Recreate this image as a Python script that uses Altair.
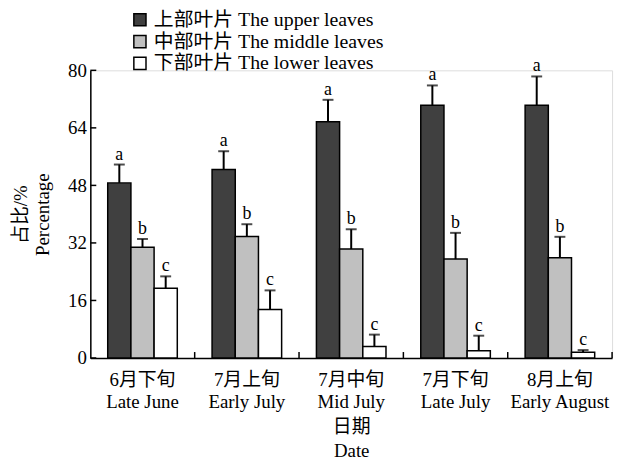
import altair as alt
import pandas as pd

dates = ["6月下旬|Late June", "7月上旬|Early July", "7月中旬|Mid July",
         "7月下旬|Late July", "8月上旬|Early August"]
groups = ["上部叶片 The upper leaves", "中部叶片 The middle leaves", "下部叶片 The lower leaves"]
upper = [48.7, 52.4, 65.7, 70.3, 70.3]
upper_sd = [5.1, 5.1, 6.1, 5.5, 8.0]
middle = [30.8, 33.8, 30.3, 27.5, 27.9]
middle_sd = [2.3, 3.4, 5.5, 7.3, 5.8]
lower = [19.4, 13.5, 3.2, 2.0, 1.6]
lower_sd = [3.3, 5.3, 3.3, 4.2, 0.6]
upper_letters = ["a", "a", "a", "a", "a"]
middle_letters = ["b", "b", "b", "b", "b"]
lower_letters = ["c", "c", "c", "c", "c"]
y_ticks = [0, 16, 32, 48, 64, 80]
colors = ["#404040", "#c0c0c0", "#ffffff"]

FONT = '"Liberation Serif", "Noto Sans CJK SC", serif'

rows = []
for g, vals, sds, lets in zip(groups, [upper, middle, lower],
                              [upper_sd, middle_sd, lower_sd],
                              [upper_letters, middle_letters, lower_letters]):
    for d, v, s, l in zip(dates, vals, sds, lets):
        rows.append({"date": d, "group": g, "value": v, "err": v + s, "letter": l})
df = pd.DataFrame(rows)
df_ticks = pd.DataFrame({"v": y_ticks})
df_dates = pd.DataFrame({"date": dates})

W, H = 526, 290

xscale = alt.Scale(domain=dates, paddingInner=0, paddingOuter=0)
offscale = alt.Scale(domain=groups, paddingInner=0, paddingOuter=0.75)
yscale = alt.Scale(domain=[0, 80], nice=False)

x_enc = alt.X("date:N", scale=xscale, sort=dates,
              axis=alt.Axis(title=["日期", "Date"], labelAngle=0, tickSize=0,
                            labelExpr="split(datum.label, '|')",
                            labelPadding=13, labelLineHeight=22, labelFontSize=19,
                            titleFontSize=19, titleLineHeight=24, titlePadding=6,
                            titleFontWeight="normal",
                            domainColor="black", domainWidth=1.5,
                            labelColor="black", titleColor="black",
                            labelFont=FONT, titleFont=FONT))
y_enc = alt.Y("value:Q", scale=yscale,
              axis=alt.Axis(values=y_ticks, tickSize=0, labelPadding=4,
                            labelFontSize=19, grid=False,
                            title=["占比/%", "Percentage"], titleFontSize=19,
                            titleLineHeight=22, titlePadding=15, titleFontWeight="normal",
                            domainColor="black", domainWidth=1.5,
                            labelColor="black", titleColor="black",
                            labelFont=FONT, titleFont=FONT))
xo = alt.XOffset("group:N", scale=offscale, sort=groups)

base = alt.Chart(df)

bars = base.mark_bar(stroke="black", strokeWidth=1.5).encode(
    x=x_enc, xOffset=xo, y=y_enc,
    fill=alt.Fill("group:N", scale=alt.Scale(domain=groups, range=colors),
                  legend=alt.Legend(title=None, orient="none", legendX=40, legendY=-61,
                                    symbolType="square", symbolSize=150,
                                    symbolStrokeColor="black", symbolStrokeWidth=1.5,
                                    labelFontSize=20, labelFont=FONT, labelColor="black",
                                    labelOffset=4, rowPadding=2, padding=0,
                                    labelLimit=400)),
)

errs = base.mark_rule(color="black", strokeWidth=2).encode(
    x=alt.X("date:N", scale=xscale, sort=dates), xOffset=xo,
    y=alt.Y("value:Q", scale=yscale), y2="err:Q")

caps = base.mark_tick(color="black", thickness=2, size=11).encode(
    x=alt.X("date:N", scale=xscale, sort=dates), xOffset=xo,
    y=alt.Y("err:Q", scale=yscale))

letters = base.mark_text(baseline="alphabetic", dy=-5, fontSize=18, font=FONT,
                         color="black").encode(
    x=alt.X("date:N", scale=xscale, sort=dates), xOffset=xo,
    y=alt.Y("err:Q", scale=yscale), text="letter:N")

yticks = alt.Chart(df_ticks).mark_rule(color="black", strokeWidth=1.5).encode(
    y=alt.Y("v:Q", scale=yscale), x=alt.value(0), x2=alt.value(6))

xticks = alt.Chart(df_dates).mark_rule(color="black", strokeWidth=1.5).encode(
    x=alt.X("date:N", scale=xscale, sort=dates, bandPosition=1),
    y=alt.value(H), y2=alt.value(H - 6))

chart = alt.layer(bars, errs, caps, letters, yticks, xticks).properties(
    width=W, height=H,
    autosize=alt.AutoSizeParams(type="none"),
    padding={"left": 83, "top": 61, "right": 10, "bottom": 101},
).configure_view(stroke=None).configure(background="white")

chart.save("out.html", embed_options={"renderer": "svg", "actions": False})
